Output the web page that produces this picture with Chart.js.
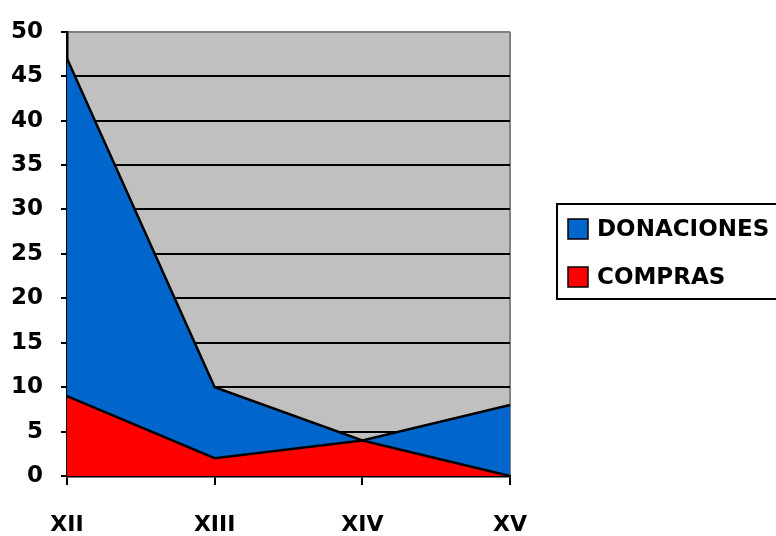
<!DOCTYPE html>
<html>
<head>
<meta charset="utf-8">
<script src="https://cdn.jsdelivr.net/npm/chart.js@4/dist/chart.umd.min.js"></script>
<style>
html,body{margin:0;padding:0;background:#fff;}
#wrap{width:776px;height:536px;}
</style>
</head>
<body>
<div id="wrap"><canvas id="c" width="776" height="536"></canvas></div>
<script>
const categories = ["XII", "XIII", "XIV", "XV"];
const donaciones = [47, 10, 4, 8];
const compras = [9, 2, 4, 0];
const seriesNames = ["DONACIONES", "COMPRAS"];
const yTicks = [0, 5, 10, 15, 20, 25, 30, 35, 40, 45, 50];

const FONT = "'DejaVu Sans', sans-serif";

const boxedLegend = {
  id: 'boxedLegend',
  afterDraw(chart) {
    const ctx = chart.ctx;
    ctx.save();
    ctx.lineWidth = 2;
    ctx.strokeStyle = '#000';
    ctx.strokeRect(557, 204, 260, 95);
    const ys = [229, 277];
    chart.data.datasets.forEach((ds, i) => {
      const y = ys[i];
      ctx.fillStyle = ds.backgroundColor;
      ctx.fillRect(568, y - 10, 20, 20);
      ctx.lineWidth = 1.5;
      ctx.strokeStyle = '#000';
      ctx.strokeRect(568, y - 10, 20, 20);
      ctx.fillStyle = '#000';
      ctx.font = "bold 23px " + FONT;
      ctx.textBaseline = 'middle';
      ctx.textAlign = 'left';
      ctx.fillText(ds.label, 597, y + 1);
    });
    ctx.restore();
  }
};

const plotBg = {
  id: 'plotBg',
  beforeDraw(chart) {
    const a = chart.chartArea;
    const ctx = chart.ctx;
    ctx.save();
    ctx.fillStyle = '#C0C0C0';
    ctx.fillRect(a.left, a.top, a.right - a.left, a.bottom - a.top);
    ctx.restore();
  }
};

new Chart(document.getElementById('c'), {
  type: 'line',
  data: {
    labels: categories,
    datasets: [
      {
        label: seriesNames[0],
        data: donaciones,
        backgroundColor: '#0066CC',
        borderColor: '#000',
        borderWidth: 2.5,
        fill: 'origin',
        pointRadius: 0,
        tension: 0,
        order: 1
      },
      {
        label: seriesNames[1],
        data: compras,
        backgroundColor: '#FF0000',
        borderColor: '#000',
        borderWidth: 2.5,
        fill: 'origin',
        pointRadius: 0,
        tension: 0,
        order: 0
      }
    ]
  },
  options: {
    responsive: false,
    animation: false,
    devicePixelRatio: 1,
    layout: { padding: { left: 0, right: 266, top: 28, bottom: 0 } },
    plugins: {
      legend: { display: false },
      tooltip: { enabled: false }
    },
    scales: {
      x: {
        type: 'category',
        offset: false,
        afterFit(s) { s.height = 60; },
        grid: {
          display: true,
          drawOnChartArea: true,
          drawTicks: true,
          tickLength: 9,
          lineWidth: 2,
          color: (c) => (c.index === categories.length - 1 ? '#808080' : 'rgba(0,0,0,0)'),
          tickColor: '#000'
        },
        border: { display: true, color: '#000', width: 2.5 },
        ticks: {
          color: '#000',
          font: { family: FONT, size: 22, weight: 'bold' },
          padding: 27,
          maxRotation: 0,
          autoSkip: false
        }
      },
      y: {
        min: 0,
        max: 50,
        afterFit(s) { s.width = 67; },
        afterBuildTicks(s) { s.ticks = yTicks.map(v => ({ value: v })); },
        grid: {
          lineWidth: 2,
          tickLength: 6,
          color: (c) => (c.tick && c.tick.value === 50 ? '#808080' : '#000'),
          tickColor: '#000'
        },
        border: { display: true, color: '#000', width: 2.5 },
        ticks: {
          color: '#000',
          font: { family: FONT, size: 23, weight: 'bold' },
          padding: 18
        }
      }
    }
  },
  plugins: [plotBg, boxedLegend]
});
</script>
</body>
</html>
